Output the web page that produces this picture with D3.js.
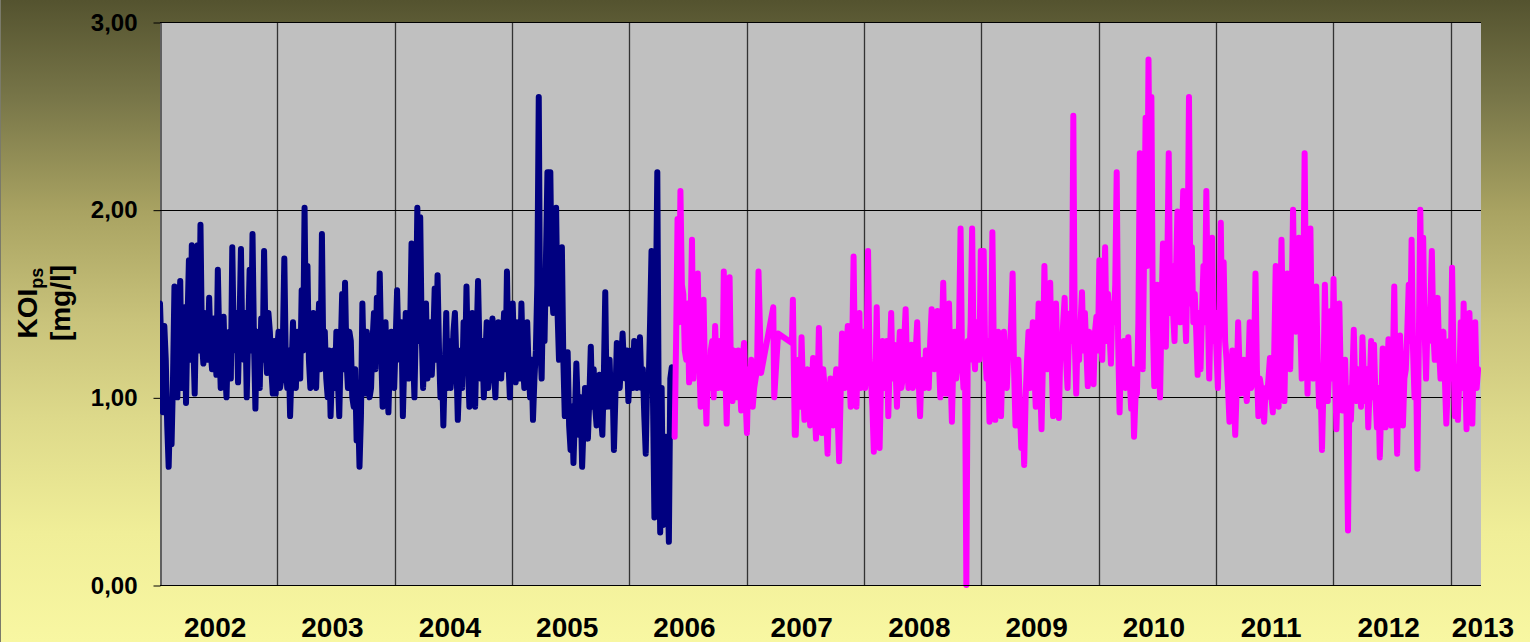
<!DOCTYPE html>
<html>
<head>
<meta charset="utf-8">
<script src="https://cdn.jsdelivr.net/npm/d3@7"></script>
<style>
  body { margin: 0; overflow: hidden; }
  text { font-family: "Liberation Sans", Arial, sans-serif; font-weight: bold; }
</style>
</head>
<body>
<div id="chart"></div>
<script>
// one sample every 4.5 days
const sampleHours = 108;

const navyStart = '2002-01-01';
const navyValues = [
  1.50,1.25, 0.92,1.38, 1.20,0.85, 0.63,0.95, 0.75,1.10, 1.59,1.15, 1.00,1.45, 1.62,1.05, 1.20,1.48, 0.97,1.40,
  1.73,1.20, 1.81,1.30, 1.02,1.45, 1.81,1.25, 1.92,1.30, 1.18,1.45, 1.40,1.20, 1.53,1.25, 1.15,1.42, 1.30,1.12,
  1.68,1.30, 1.05,1.35, 1.43,1.15, 1.00,1.28, 1.35,1.10, 1.80,1.30, 1.25,1.45, 1.08,1.40, 1.79,1.25, 1.20,1.45,
  1.00,1.35, 1.68,1.25, 1.87,1.30, 0.94,1.35, 1.25,1.05, 1.42,1.20, 1.78,1.30, 1.13,1.45, 1.35,1.15, 1.02,1.30,
  1.02,1.25, 1.35,1.05, 1.10,1.30, 1.74,1.20, 1.05,1.25, 0.90,1.15, 1.40,1.10, 1.05,1.35, 1.30,1.10, 1.57,1.25,
  2.01,1.30, 1.70,1.20, 1.05,1.35, 1.45,1.10, 1.05,1.30, 1.50,1.15, 1.87,1.20, 1.35,1.10, 1.00,1.25, 0.90,1.15,
  1.25,1.05, 1.35,1.10, 0.90,1.25, 1.55,1.15, 1.61,1.20, 1.05,1.35, 1.30,1.00, 0.95,1.15, 0.77,0.95, 0.63,0.90,
  1.50,1.15, 1.02,1.35, 1.25,1.00, 1.05,1.30, 1.45,1.15, 1.53,1.20, 1.66,1.25, 0.95,1.20, 1.40,1.10, 0.92,1.20,
  1.35,1.20, 1.05,1.30, 1.57,1.25, 1.20,1.40, 0.90,1.20, 1.45,1.25, 1.10,1.35, 1.82,1.25, 1.00,1.40, 2.01,1.30,
  1.96,1.35, 1.05,1.30, 1.50,1.10, 1.20,1.40, 1.12,1.30, 1.58,1.20, 1.65,1.25, 1.00,1.20, 0.85,1.15, 1.45,1.05,
  1.30,1.05, 1.15,1.35, 1.45,1.20, 0.88,1.10, 1.25,1.05, 1.40,1.15, 1.59,1.20, 0.95,1.20, 1.45,1.15, 0.95,1.30,
  1.62,1.25, 1.10,1.30, 1.00,1.20, 1.40,1.05, 1.15,1.35, 1.42,1.15, 1.00,1.25, 1.40,1.20, 1.10,1.30, 1.45,1.15,
  1.67,1.20, 1.00,1.30, 1.50,1.20, 1.08,1.40, 1.35,1.10, 1.50,1.20, 1.05,1.30, 1.40,1.15, 1.00,1.20, 0.88,1.10,
  1.25,1.60, 2.60,1.30, 1.10,1.55, 1.30,1.75, 2.20,1.50, 2.20,1.60, 1.45,1.80, 2.01,1.45, 1.20,1.55, 1.80,1.20,
  0.90,1.05, 1.24,0.85, 0.72,0.95, 0.65,0.90, 1.18,0.95, 0.80,1.00, 0.63,0.85, 1.05,0.85, 0.78,1.00, 1.27,0.95,
  1.15,0.95, 0.85,1.05, 1.12,0.90, 0.80,1.10, 1.56,0.95, 1.05,1.20, 0.95,1.10, 0.72,1.00, 1.29,1.10, 1.05,1.20,
  1.34,1.15, 1.10,1.25, 0.98,1.15, 1.25,1.05, 1.30,1.15, 1.05,1.25, 1.32,1.05, 1.15,0.90, 0.70,1.10, 1.05,1.40,
  1.78,1.00, 0.36,1.50, 2.20,0.90, 0.28,1.05, 0.32,0.70, 0.79,0.60, 0.23,1.10, 1.16
];

const magentaAStart = '2006-05-22';
const magentaAValues = [
  0.79,1.30, 1.95,1.40, 2.10,1.60, 1.55,1.25, 1.20,1.50, 1.08,1.40, 1.84,1.10, 1.35,1.55, 1.66,1.20, 0.95,1.30,
  1.52,1.10, 0.86,1.20, 1.05,1.25, 1.30,1.00, 1.38,1.15, 1.05,1.30, 1.25,1.05, 1.67,1.15, 0.86,1.20, 1.64,1.10,
  0.98,1.25, 1.20,1.00, 1.25,1.10, 0.93,1.20, 1.29,1.00, 0.81,1.15, 1.05,1.20, 0.95,1.05, 1.10,1.15, 1.67
];

// sparse measurements in spring 2007
const magentaGapDates = ['2007-02-15', '2007-03-25', '2007-03-28', '2007-04-09', '2007-05-22', '2007-05-25', '2007-05-31'];
const magentaGapValues = [1.13, 1.48, 1.00, 1.34, 1.29, 1.52, 0.80];

const magentaBStart = '2007-06-03';
const magentaBValues = [
  0.80,1.05, 1.20,0.95, 1.32,1.05, 0.88,1.10, 1.15,0.95, 0.85,1.05, 1.21,0.95, 0.78,1.00, 1.37,1.00, 0.81,1.15,
  1.05,0.90, 0.70,0.95, 1.10,0.95, 0.85,1.05, 1.15,0.90, 0.66,1.00, 1.34,1.10, 1.05,1.25, 1.38,1.15, 0.95,1.25,
  1.75,1.15, 0.95,1.25, 1.45,1.05, 1.20,1.35, 1.05,1.25, 1.78,1.20, 1.10,0.95, 0.71,1.05, 1.48,1.00, 0.73,1.10,
  1.30,1.05, 1.15,1.30, 0.90,1.20, 1.45,1.10, 1.28,1.15, 0.95,1.20, 1.35,1.05, 1.10,1.30, 1.47,1.15, 1.05,1.20,
  1.28,1.05, 1.10,1.25, 1.40,1.10, 0.90,1.15, 1.20,1.05, 1.25,1.15, 1.05,1.30, 1.47,1.20, 1.15,1.35, 1.46,1.20,
  1.00,1.30, 1.61,1.25, 1.02,1.35, 1.50,1.15, 0.87,1.20, 1.35,1.10, 1.20,1.40, 1.90,1.20, 1.05,1.25, 0.00,1.30,
  1.20,1.40, 1.90,1.25, 1.15,1.40, 1.30,1.20, 1.78,1.30, 1.78,1.25, 1.10,1.30, 0.87,1.20, 1.88,1.25, 0.88,1.15,
  1.35,1.15, 0.90,1.20, 1.35,1.10, 1.05,1.25, 1.25,1.40, 1.66,1.15, 0.85,1.05, 1.20,0.95, 0.73,0.95, 0.64,1.00,
  1.20,1.35, 1.05,1.25, 1.40,1.15, 0.95,1.25, 1.50,1.10, 0.83,1.20, 1.70,1.30, 1.15,1.40, 1.61,1.20, 0.90,1.25,
  1.50,1.20, 0.89,1.25, 1.25,1.40, 1.53,1.20, 1.05,1.35, 1.45,1.30, 2.50,1.30, 1.02,1.35, 1.20,1.40, 1.56,1.25,
  1.45,1.25, 1.06,1.35, 1.30,1.20, 1.07,1.35, 1.43,1.25, 1.73,1.35, 1.20,1.50, 1.80,1.30, 1.55,1.35, 1.18,1.50,
  1.40,1.60, 2.20,1.30, 0.92,1.25, 1.10,1.30, 1.05,1.20, 1.32,1.10, 0.94,1.15, 0.79,1.00, 1.02,1.40, 2.30,1.50,
  1.15,1.80, 2.49,1.70, 2.80,1.90, 2.60,1.40, 1.06,1.45, 1.60,1.25, 1.00,1.45, 1.82,1.40, 1.27,1.70, 2.30,1.45,
  1.70,1.45, 1.30,1.65, 1.99,1.55, 1.40,1.80, 2.10,1.50, 1.30,1.70, 2.60,1.50, 1.80,1.40, 1.55,1.35, 1.12,1.45,
  1.15,1.45, 1.70,1.40, 2.10,1.50, 1.10,1.45, 1.85,1.30, 1.45,1.25, 1.05,1.40, 1.93,1.35, 1.72,1.30, 1.20,1.05,
  0.87,1.10, 1.25,1.00, 0.80,1.05, 1.40,1.15, 1.02,1.10, 1.20,1.05, 0.98,1.15, 1.40,1.05, 1.08,1.20, 1.66,1.15,
  0.90,1.10, 1.05,0.95, 0.87,1.05, 1.00,1.10, 1.21,1.00, 0.92,1.25, 1.70,1.30, 0.95,1.40, 1.84,1.35, 0.98,1.40,
  1.66,1.35, 1.15,1.50, 2.00,1.45, 1.35,1.55, 1.85,1.40, 1.10,1.50, 2.30,1.45, 1.02,1.35, 1.90,1.30, 1.10,1.30,
  1.59,1.20, 0.95,1.10, 0.72,1.05, 1.60,1.20, 0.98,1.15, 1.46,1.10, 1.63,1.15, 0.83,1.10, 1.50,1.10, 0.93,1.05,
  1.20,0.90, 0.29,1.05, 0.88,1.10, 1.36,1.05, 0.98,1.15, 1.10,0.95, 1.32,1.10, 0.98,1.15, 0.84,1.05, 1.30,1.00,
  1.28,1.00, 0.84,1.05, 0.68,0.95, 1.26,1.00, 0.84,1.10, 1.31,1.00, 0.85,1.15, 1.59,1.05, 0.70,1.10, 1.33,1.05,
  0.85,1.10, 1.15,1.35, 1.60,1.30, 1.84,1.25, 1.00,1.20, 0.62,1.30, 2.00,1.40, 1.85,1.35, 1.10,1.40, 1.30,1.50,
  1.78,1.35, 1.20,1.40, 1.53,1.25, 1.10,1.30, 1.35,1.10, 0.86,1.05, 1.30,1.10, 1.69,1.20, 0.90,1.15, 0.88,1.10,
  1.40,1.05, 1.50,1.15, 0.83,1.20, 1.45,1.10, 0.86,1.25, 1.40,1.05, 1.15
];

const yTicks = [0, 1, 2, 3];
const yearLabels = ['2002', '2003', '2004', '2005', '2006', '2007', '2008', '2009', '2010', '2011', '2012', '2013'];
const xStart = '2002-01-01';
const xEnd = '2013-04-05';

const parse = d3.timeParse('%Y-%m-%d');

function regular(start, values) {
  const t0 = parse(start);
  return values.map((v, i) => ({date: d3.timeHour.offset(t0, i * sampleHours), value: v}));
}

const navyData = regular(navyStart, navyValues);
const magentaData = regular(magentaAStart, magentaAValues)
  .concat(magentaGapDates.map((d, i) => ({date: parse(d), value: magentaGapValues[i]})))
  .concat(regular(magentaBStart, magentaBValues));

const W = 1530, H = 642;
const plot = {left: 160, top: 22, right: 1481, bottom: 585};

const svg = d3.select('#chart')
  .append('svg')
  .attr('width', W)
  .attr('height', H);

const defs = svg.append('defs');
const grad = defs.append('linearGradient')
  .attr('id', 'bg')
  .attr('x1', 0).attr('y1', 0).attr('x2', 0).attr('y2', 1);
[[0, '#54532f'], [0.15, '#777548'], [0.33, '#a9a362'], [0.5, '#c9c37b'],
 [0.65, '#ddd98a'], [0.83, '#f0ee98'], [1, '#f8f7a2']].forEach(s => {
  grad.append('stop').attr('offset', s[0]).attr('stop-color', s[1]);
});

defs.append('clipPath').attr('id', 'clip')
  .append('rect')
  .attr('x', plot.left).attr('y', plot.top - 5)
  .attr('width', plot.right - plot.left)
  .attr('height', plot.bottom - plot.top + 10);

svg.append('rect').attr('width', W).attr('height', H).attr('fill', 'url(#bg)');
svg.append('line')
  .attr('x1', 0.5).attr('x2', 0.5).attr('y1', 0).attr('y2', H)
  .attr('stroke', '#7a7a6a').attr('stroke-width', 1);

const x = d3.scaleTime()
  .domain([parse(xStart), parse(xEnd)])
  .range([plot.left, plot.right]);

const y = d3.scaleLinear()
  .domain([0, 3])
  .range([plot.bottom, plot.top]);

svg.append('rect')
  .attr('x', plot.left).attr('y', plot.top)
  .attr('width', plot.right - plot.left)
  .attr('height', plot.bottom - plot.top)
  .attr('fill', '#c0c0c0');

// year grid lines
svg.append('g')
  .selectAll('line')
  .data(d3.timeYear.range(d3.timeYear.offset(parse(xStart), 1), parse(xEnd)))
  .enter()
  .append('line')
  .attr('x1', d => Math.round(x(d)) + 0.5)
  .attr('x2', d => Math.round(x(d)) + 0.5)
  .attr('y1', plot.top)
  .attr('y2', plot.bottom)
  .attr('stroke', '#333')
  .attr('stroke-width', 1.3);

// value grid lines
svg.append('g')
  .selectAll('line')
  .data(yTicks)
  .enter()
  .append('line')
  .attr('x1', plot.left)
  .attr('x2', plot.right)
  .attr('y1', d => Math.round(y(d)) + 0.5)
  .attr('y2', d => Math.round(y(d)) + 0.5)
  .attr('stroke', '#000')
  .attr('stroke-width', 1);

const yAxis = d3.axisLeft(y)
  .tickValues(yTicks)
  .tickSize(7)
  .tickSizeOuter(0)
  .tickPadding(16)
  .tickFormat(d => d3.format('.2f')(d).replace('.', ','));

const gy = svg.append('g')
  .attr('transform', `translate(${plot.left + 0.5},0.5)`)
  .call(yAxis);
gy.select('.domain').attr('stroke', '#000');
gy.selectAll('.tick line').attr('stroke', '#000');
gy.selectAll('.tick text')
  .attr('fill', '#000')
  .style('font-size', '24px')
  .style('font-family', '"Liberation Sans", Arial, sans-serif')
  .style('font-weight', 'bold');

// year labels, centred in each year; last one at the right edge
svg.append('g')
  .selectAll('text')
  .data(yearLabels)
  .enter()
  .append('text')
  .attr('x', (d, i) => i < yearLabels.length - 1
    ? x(new Date(+d, 6, 1)) - 3
    : x(parse(xEnd)) + 2)
  .attr('y', 637)
  .attr('text-anchor', 'middle')
  .attr('fill', '#000')
  .style('font-size', '28px')
  .text(d => d);

// axis title
const title = svg.append('g')
  .attr('transform', 'translate(0,303) rotate(-90)');
const t1 = title.append('text')
  .attr('x', 0).attr('y', 37)
  .attr('text-anchor', 'middle')
  .attr('fill', '#000')
  .style('font-size', '28px');
t1.append('tspan').text('KOI');
t1.append('tspan').attr('dy', 6).style('font-size', '18px').text('ps');
title.append('text')
  .attr('x', 0).attr('y', 70)
  .attr('text-anchor', 'middle')
  .attr('fill', '#000')
  .style('font-size', '28px')
  .text('[mg/l]');

const line = d3.line()
  .x(d => x(d.date))
  .y(d => y(d.value));

const series = svg.append('g').attr('clip-path', 'url(#clip)');

series.append('path')
  .datum(navyData)
  .attr('fill', 'none')
  .attr('stroke', '#000080')
  .attr('stroke-width', 6)
  .attr('stroke-linejoin', 'round')
  .attr('stroke-linecap', 'round')
  .attr('d', line);

series.append('path')
  .datum(magentaData)
  .attr('fill', 'none')
  .attr('stroke', '#ff00ff')
  .attr('stroke-width', 6)
  .attr('stroke-linejoin', 'round')
  .attr('stroke-linecap', 'round')
  .attr('d', line);

// x axis line
svg.append('line')
  .attr('x1', plot.left).attr('x2', plot.right)
  .attr('y1', plot.bottom + 0.5).attr('y2', plot.bottom + 0.5)
  .attr('stroke', '#000');
</script>
</body>
</html>
